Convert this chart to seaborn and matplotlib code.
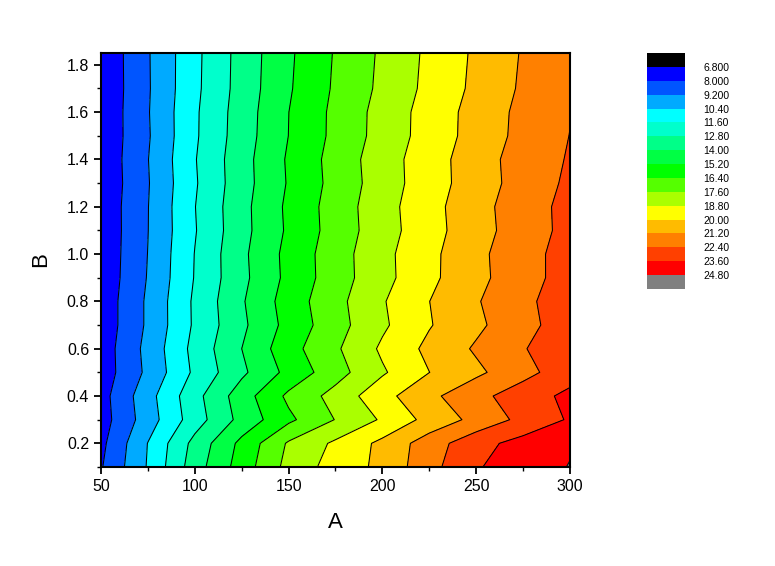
import numpy as np
import pandas as pd
import matplotlib
matplotlib.use("Agg")
import matplotlib.pyplot as plt
import seaborn as sns
from matplotlib.colors import ListedColormap, BoundaryNorm
from matplotlib.ticker import MultipleLocator

# grid
A_vals = [50, 75, 100, 125, 150, 175, 200, 225, 250, 275, 300]
B_vals = [0.10, 0.20, 0.30, 0.40, 0.50, 0.60, 0.70, 0.80, 0.90, 1.00,
          1.10, 1.20, 1.30, 1.40, 1.50, 1.60, 1.70, 1.85]

z_rows = [
    [7.90, 10.50, 13.45, 15.75, 18.00, 19.30, 20.30, 22.00, 23.50, 24.20, 24.85],
    [7.69, 10.43, 13.18, 15.52, 17.75, 19.01, 20.30, 21.81, 23.20, 24.01, 24.67],
    [7.46, 9.82, 12.23, 14.39, 16.15, 17.64, 18.95, 20.40, 21.55, 22.74, 23.73],
    [7.53, 9.96, 12.40, 14.63, 16.65, 18.02, 19.60, 20.91, 22.05, 23.02, 23.89],
    [7.33, 9.46, 11.83, 13.76, 15.55, 17.12, 18.65, 19.99, 20.95, 22.02, 23.09],
    [7.33, 9.56, 11.98, 14.00, 15.95, 17.42, 19.00, 20.29, 21.35, 22.32, 23.29],
    [7.22, 9.39, 11.78, 13.75, 15.60, 17.13, 18.60, 19.92, 20.95, 22.03, 23.01],
    [7.22, 9.39, 11.80, 13.87, 15.75, 17.23, 18.70, 19.99, 21.10, 22.13, 23.06],
    [7.13, 9.27, 11.66, 13.69, 15.52, 17.04, 18.42, 19.73, 20.87, 21.94, 22.90],
    [7.11, 9.22, 11.63, 13.74, 15.56, 17.05, 18.46, 19.70, 20.91, 21.95, 22.89],
    [7.09, 9.18, 11.52, 13.61, 15.39, 16.90, 18.29, 19.55, 20.74, 21.80, 22.76],
    [7.11, 9.17, 11.57, 13.63, 15.44, 16.93, 18.34, 19.59, 20.79, 21.83, 22.77],
    [7.04, 9.12, 11.47, 13.52, 15.30, 16.80, 18.20, 19.46, 20.60, 21.70, 22.62],
    [7.06, 9.17, 11.53, 13.54, 15.35, 16.85, 18.25, 19.45, 20.65, 21.72, 22.50],
    [7.04, 9.08, 11.43, 13.42, 15.21, 16.70, 18.06, 19.30, 20.46, 21.56, 22.42],
    [7.02, 9.12, 11.42, 13.38, 15.19, 16.69, 18.04, 19.29, 20.44, 21.52, 22.35],
    [6.99, 9.08, 11.33, 13.28, 15.07, 16.57, 17.87, 19.12, 20.27, 21.38, 22.30],
    [7.00, 9.10, 11.30, 13.25, 15.00, 16.50, 17.80, 19.05, 20.20, 21.30, 22.30],
]

levels = [6.8, 8.0, 9.2, 10.4, 11.6, 12.8, 14.0, 15.2, 16.4, 17.6,
          18.8, 20.0, 21.2, 22.4, 23.6, 24.8]
band_colors = ["#0000FF", "#0055FF", "#00AAFF", "#00FFFF", "#00FFCC",
               "#00FF88", "#00FF44", "#00FF00", "#55FF00", "#AAFF00",
               "#FFFF00", "#FFBB00", "#FF8000", "#FF4000", "#FF0000"]
under_color = "#000000"
over_color = "#808080"
cbar_labels = ["6.800", "8.000", "9.200", "10.40", "11.60", "12.80", "14.00",
               "15.20", "16.40", "17.60", "18.80", "20.00", "21.20", "22.40",
               "23.60", "24.80"]

sns.set_style("ticks")
plt.rcParams['font.family'] = ['Liberation Sans', 'DejaVu Sans']
plt.rcParams['text.color'] = 'black'
plt.rcParams['axes.labelcolor'] = 'black'
plt.rcParams['xtick.color'] = 'black'
plt.rcParams['ytick.color'] = 'black'

fig = plt.figure(figsize=(7.75, 5.66), dpi=100)
ax = fig.add_axes([101 / 775, 99 / 566, 469 / 775, 414 / 566])

Z = np.array(z_rows)
cmap = ListedColormap(band_colors)
cmap.set_under(under_color)
cmap.set_over(over_color)
norm = BoundaryNorm(levels, cmap.N)

ax.contourf(A_vals, B_vals, Z, levels=levels, cmap=cmap, norm=norm, extend='both')
ax.contour(A_vals, B_vals, Z, levels=levels, colors='black', linewidths=0.75)

ax.set_xlim(50, 300)
ax.set_ylim(0.1, 1.85)
ax.xaxis.set_major_locator(MultipleLocator(50))
ax.xaxis.set_minor_locator(MultipleLocator(25))
ax.yaxis.set_minor_locator(MultipleLocator(0.1))
ax.set_yticks(np.arange(0.2, 1.81, 0.2))
ax.set_yticklabels([f"{v:.1f}" for v in np.arange(0.2, 1.81, 0.2)])
ax.tick_params(which='major', direction='out', length=5, width=1.3, labelsize=11.5)
ax.tick_params(which='minor', direction='out', length=3, width=1.0)
for s in ax.spines.values():
    s.set_linewidth(1.5)
    s.set_color('black')
ax.set_xlabel("A", fontsize=16, labelpad=13)
ax.set_ylabel("B", fontsize=16, labelpad=11)

# colour scale, Origin style: lowest at top, boxes for under/over
cax = fig.add_axes([647 / 775, 277 / 566, 38 / 775, 236 / 566])
all_colors = [under_color] + band_colors + [over_color]
bar_df = pd.DataFrame({"c": np.arange(len(all_colors))})
sns.heatmap(bar_df, cmap=ListedColormap(all_colors), cbar=False, ax=cax,
            xticklabels=False, yticklabels=False)
cax.yaxis.tick_right()
cax.set_yticks(np.arange(1, len(all_colors)))
cax.set_yticklabels(cbar_labels, rotation=0)
cax.tick_params(axis='y', length=0, pad=13, labelsize=7.5, labelcolor='black')
cax.set_ylabel("")
cax.set_xlabel("")

fig.savefig("out.png", dpi=100)
